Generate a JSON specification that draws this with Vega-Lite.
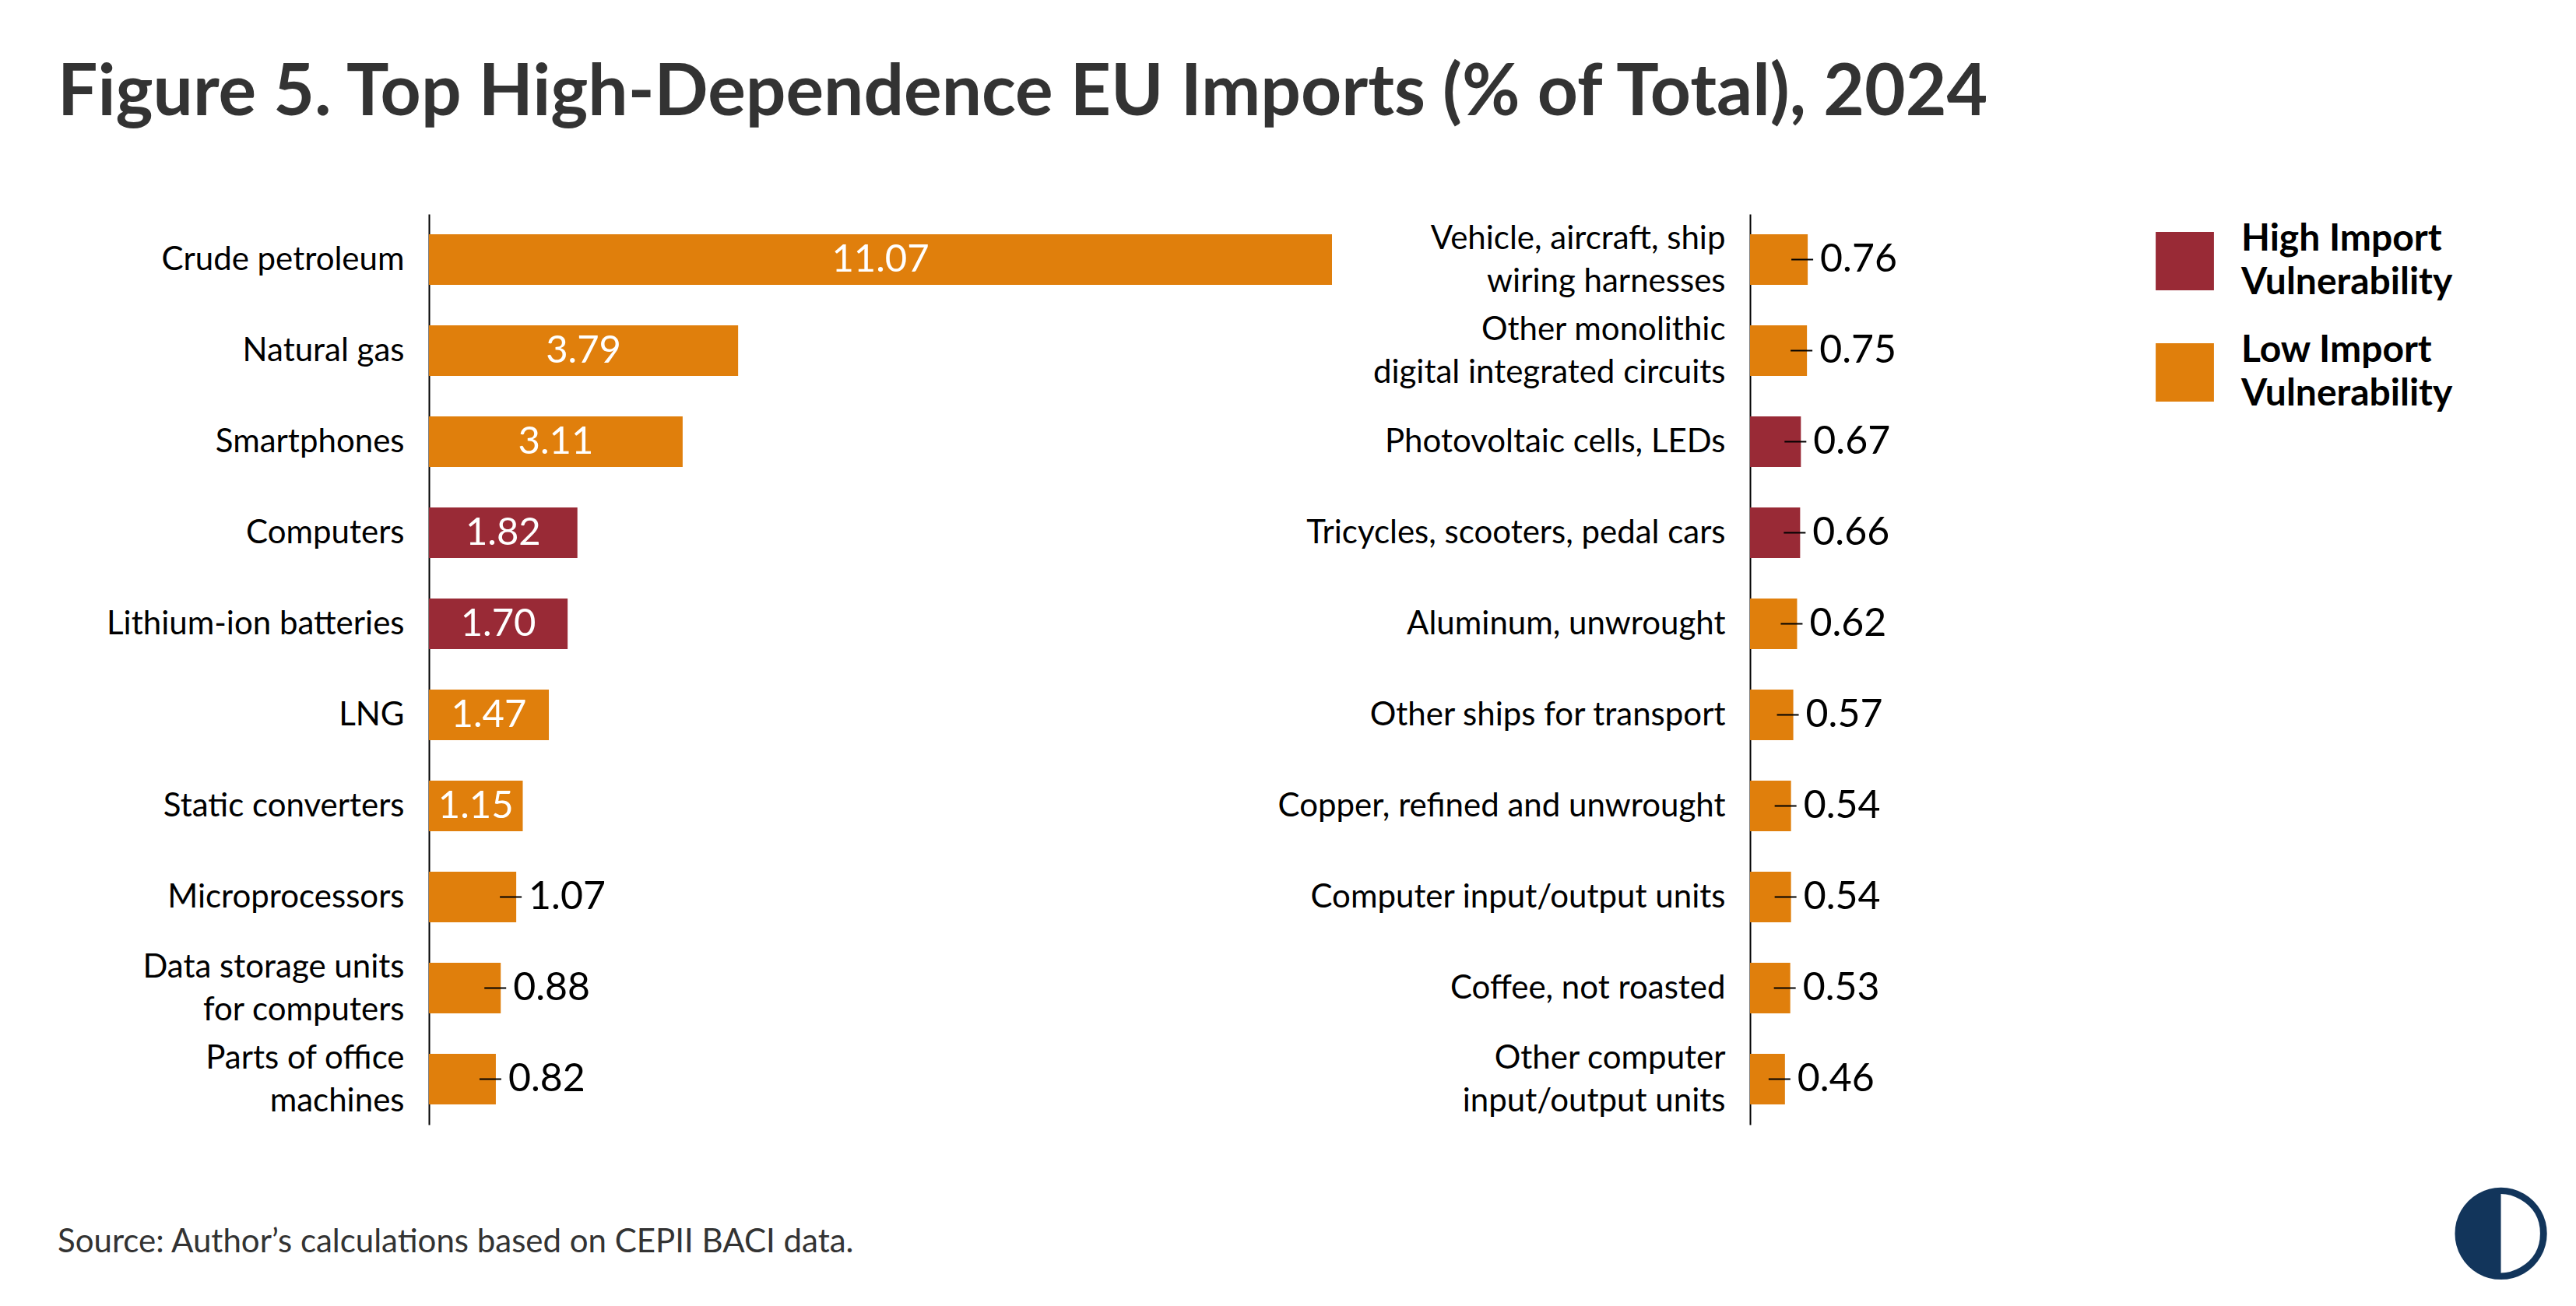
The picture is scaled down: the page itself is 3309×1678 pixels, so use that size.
{
  "$schema": "https://vega.github.io/schema/vega-lite/v6.json",
  "background": "white",
  "padding": {"left": 74, "top": 75, "right": 15, "bottom": 10},
  "config": {
    "font": "Lato",
    "view": {"stroke": null},
    "style": {"guide-label": {"lineHeight": 56}},
    "axisY": {
      "title": null,
      "ticks": false,
      "domainColor": "black",
      "domainWidth": 2,
      "labelPadding": 32,
      "labelFontSize": 42,
      "labelColor": "black",
      "labelLineHeight": 55,
      "labelLimit": 0,
      "labelOffset": {"condition": {"test": "indexof(datum.value, '|') >= 0", "value": -27}, "value": 0},
      "labelExpr": "split(datum.label, '|')"
    }
  },
  "title": {
    "text": "Figure 5. Top High-Dependence EU Imports (% of Total), 2024",
    "anchor": "start",
    "fontSize": 91,
    "fontWeight": "bold",
    "color": "#333333",
    "offset": 108
  },
  "datasets": {
    "left": [
      {"item": "Crude petroleum", "value": 11.07, "risk": "Low"},
      {"item": "Natural gas", "value": 3.79, "risk": "Low"},
      {"item": "Smartphones", "value": 3.11, "risk": "Low"},
      {"item": "Computers", "value": 1.82, "risk": "High"},
      {"item": "Lithium-ion batteries", "value": 1.70, "risk": "High"},
      {"item": "LNG", "value": 1.47, "risk": "Low"},
      {"item": "Static converters", "value": 1.15, "risk": "Low"},
      {"item": "Microprocessors", "value": 1.07, "risk": "Low"},
      {"item": "Data storage units|for computers", "value": 0.88, "risk": "Low"},
      {"item": "Parts of office|machines", "value": 0.82, "risk": "Low"}
    ],
    "right": [
      {"item": "Vehicle, aircraft, ship|wiring harnesses", "value": 0.76, "risk": "Low"},
      {"item": "Other monolithic|digital integrated circuits", "value": 0.75, "risk": "Low"},
      {"item": "Photovoltaic cells, LEDs", "value": 0.67, "risk": "High"},
      {"item": "Tricycles, scooters, pedal cars", "value": 0.66, "risk": "High"},
      {"item": "Aluminum, unwrought", "value": 0.62, "risk": "Low"},
      {"item": "Other ships for transport", "value": 0.57, "risk": "Low"},
      {"item": "Copper, refined and unwrought", "value": 0.54, "risk": "Low"},
      {"item": "Computer input/output units", "value": 0.54, "risk": "Low"},
      {"item": "Coffee, not roasted", "value": 0.53, "risk": "Low"},
      {"item": "Other computer|input/output units", "value": 0.46, "risk": "Low"}
    ]
  },
  "bounds": "flush",
  "spacing": 537,
  "resolve": {"scale": {"color": "shared"}, "legend": {"color": "shared"}},
  "hconcat": [
    {
      "width": 1160,
      "height": 1170,
      "data": {"name": "left"},
      "title": {
        "text": "Source: Author’s calculations based on CEPII BACI data.",
        "orient": "bottom",
        "anchor": "start",
        "frame": "bounds",
        "fontSize": 42,
        "fontWeight": "normal",
        "color": "#333333",
        "offset": 131
      },
      "encoding": {
        "y": {
          "field": "item",
          "type": "nominal",
          "sort": null,
          "scale": {"paddingInner": 0.444, "paddingOuter": 0.222},
          "axis": {"minExtent": 477}
        }
      },
      "layer": [
        {
          "mark": {"type": "bar"},
          "encoding": {
            "x": {"field": "value", "type": "quantitative", "scale": {"domain": [0, 11.07], "nice": false}, "axis": null},
            "color": {
              "field": "risk",
              "type": "nominal",
              "scale": {"domain": ["High", "Low"], "range": ["#992A36", "#E07F0C"]},
              "legend": {
                "title": null,
                "orient": "none",
                "legendX": 2218,
                "legendY": 23,
                "padding": 0,
                "symbolType": "square",
                "symbolSize": 5600,
                "symbolStrokeWidth": 0,
                "symbolOpacity": 1,
                "labelFontSize": 48,
                "labelFontWeight": "bold",
                "labelColor": "black",
                "labelBaseline": "line-bottom",
                "labelLimit": 0,
                "labelOffset": 35,
                "rowPadding": 38,
                "labelExpr": "datum.label == 'High' ? ['High Import', 'Vulnerability'] : ['Low Import', 'Vulnerability']"
              }
            }
          }
        },
        {
          "transform": [{"filter": "datum.value >= 1.1"}],
          "mark": {"type": "text", "color": "white", "fontSize": 49, "baseline": "middle", "align": "center"},
          "encoding": {
            "x": {"field": "value", "type": "quantitative", "stack": "zero", "bandPosition": 0.5},
            "text": {"field": "value", "type": "quantitative", "format": ".2f"}
          }
        },
        {
          "transform": [{"filter": "datum.value < 1.1"}],
          "mark": {"type": "rule", "color": "black", "strokeWidth": 2, "xOffset": -21, "x2Offset": 7},
          "encoding": {
            "x": {"field": "value", "type": "quantitative"},
            "x2": {"field": "value"}
          }
        },
        {
          "transform": [{"filter": "datum.value < 1.1"}],
          "mark": {"type": "text", "color": "black", "fontSize": 50, "baseline": "middle", "align": "left", "dx": 16},
          "encoding": {
            "x": {"field": "value", "type": "quantitative"},
            "text": {"field": "value", "type": "quantitative", "format": ".2f"}
          }
        }
      ]
    },
    {
      "width": 78,
      "height": 1170,
      "data": {"name": "right"},
      "title": {
        "text": "◐",
        "orient": "bottom",
        "anchor": "end",
        "frame": "group",
        "font": "DejaVu Sans",
        "fontSize": 155,
        "fontWeight": "normal",
        "color": "#12355B",
        "dx": 954,
        "offset": 58
      },
      "encoding": {
        "y": {
          "field": "item",
          "type": "nominal",
          "sort": null,
          "scale": {"paddingInner": 0.444, "paddingOuter": 0.222}
        }
      },
      "layer": [
        {
          "mark": {"type": "bar"},
          "encoding": {
            "x": {"field": "value", "type": "quantitative", "scale": {"domain": [0, 0.8], "nice": false}, "axis": null},
            "color": {"field": "risk", "type": "nominal"}
          }
        },
        {
          "mark": {"type": "rule", "color": "black", "strokeWidth": 2, "xOffset": -21, "x2Offset": 7},
          "encoding": {
            "x": {"field": "value", "type": "quantitative"},
            "x2": {"field": "value"}
          }
        },
        {
          "mark": {"type": "text", "color": "black", "fontSize": 50, "baseline": "middle", "align": "left", "dx": 16},
          "encoding": {
            "x": {"field": "value", "type": "quantitative"},
            "text": {"field": "value", "type": "quantitative", "format": ".2f"}
          }
        }
      ]
    }
  ]
}
